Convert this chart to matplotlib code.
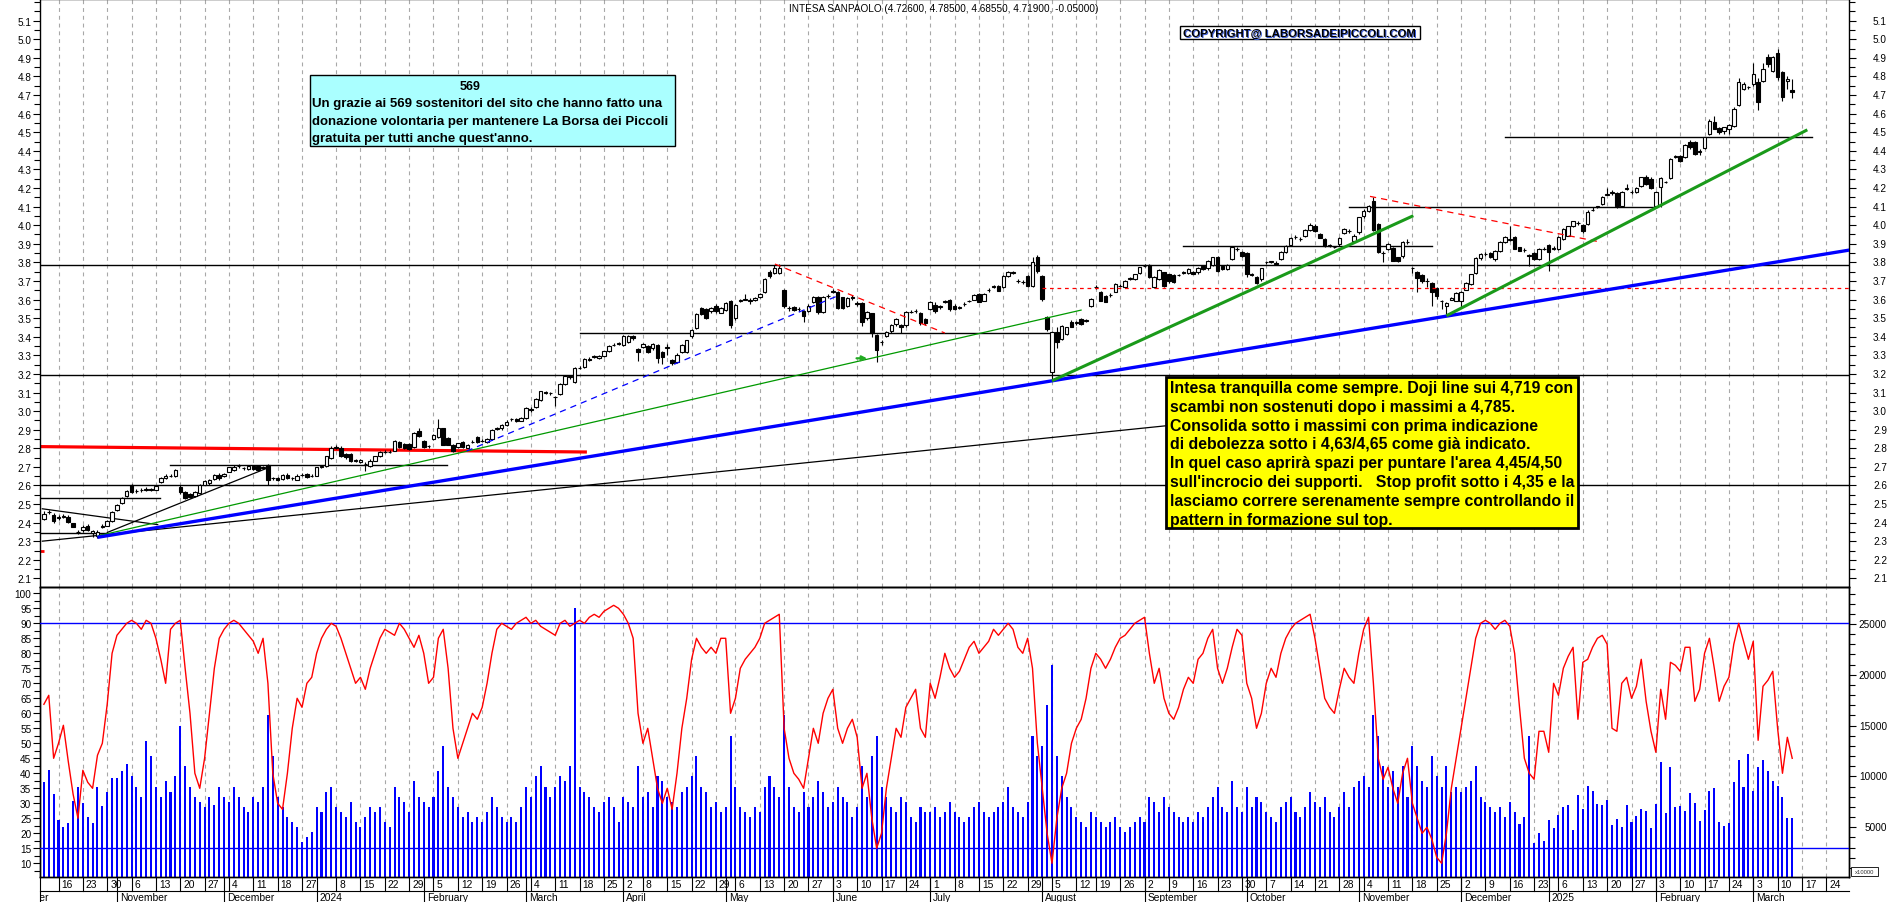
import numpy as np
import pandas as pd
import matplotlib
matplotlib.use("Agg")
import matplotlib.pyplot as plt
from matplotlib.patches import Rectangle
import matplotlib.transforms as mtransforms
from matplotlib.ticker import FixedLocator, NullFormatter

plt.rcParams['font.family'] = ['Liberation Sans', 'DejaVu Sans']

# ---------------------------------------------------------------- data
TITLE = "INTESA SANPAOLO (4.72600, 4.78500, 4.68550, 4.71900, -0.05000)"
CAL_START = "2023-10-02"
FIRST_DAY = "2023-10-11"
LAST_AXIS_DAY = "2025-03-31"
HOLIDAYS = ["2023-12-25", "2023-12-26", "2024-01-01", "2024-03-29", "2024-04-01",
            "2024-05-01", "2024-08-15", "2024-12-24", "2024-12-25", "2024-12-26",
            "2024-12-31", "2025-01-01"]

opens = [
 2.42,2.455,2.441,2.425,2.432,2.433,2.398,2.352,2.358,2.384,2.345,2.33,2.375,2.384,2.411,
 2.47,2.506,2.545,2.603,2.57,2.574,2.578,2.58,2.578,2.621,2.64,2.652,2.65,2.59,2.563,2.555,2.545,2.558,2.605,2.612,2.635,2.658,
 2.65,2.675,2.685,2.705,2.695,2.689,2.703,2.703,2.695,2.712,2.638,2.64,2.635,2.658,2.64,2.632,2.656,2.662,2.65,
 2.653,2.70,2.703,2.75,2.80,2.80,2.77,2.77,2.734,2.725,2.718,2.707,2.734,2.76,2.78,2.78,2.787,2.836,2.823,2.823,2.805,2.895,
 2.84,2.812,2.85,2.86,2.907,2.856,2.82,2.805,2.836,2.802,2.834,2.86,2.84,2.832,2.85,2.905,2.91,2.925,2.955,2.96,2.948,
 2.961,3.01,3.02,3.06,3.104,3.10,3.075,3.092,3.146,3.19,3.155,3.23,3.235,3.28,3.29,3.284,3.294,3.325,3.355,3.36,
 3.355,3.37,3.406,3.335,3.343,3.348,3.337,3.355,3.32,3.34,3.275,3.266,3.32,3.32,3.402,3.445,3.555,3.549,3.537,3.563,3.53,
 3.545,3.594,3.499,3.59,3.60,3.59,3.596,3.612,3.64,3.75,3.741,3.745,3.65,3.555,3.561,3.55,3.54,3.54,3.585,3.612,3.531,3.62,
 3.64,3.64,3.612,3.567,3.615,3.581,3.58,3.499,3.526,3.409,3.37,3.406,3.433,3.468,3.465,3.463,3.531,3.54,3.526,3.495,
 3.549,3.572,3.56,3.588,3.599,3.567,3.555,3.574,3.592,3.60,3.63,3.594,3.649,3.668,3.675,3.666,3.728,3.745,3.70,3.695,3.725,3.675,3.827,
 3.728,3.504,3.208,3.424,3.388,3.415,3.48,3.475,3.495,3.482,3.567,3.665,3.639,3.621,3.623,3.643,3.673,3.666,3.712,3.711,3.743,
 3.78,3.786,3.666,3.71,3.746,3.735,3.732,3.73,3.745,3.743,3.746,3.746,3.779,3.768,3.786,3.827,3.782,3.764,3.818,3.87,3.854,
 3.85,3.735,3.72,3.711,3.80,3.803,3.795,3.818,3.854,3.893,3.935,3.926,3.94,3.974,3.997,3.953,3.926,3.89,3.88,3.897,3.958,3.97,3.917,
 3.962,4.047,4.078,4.132,4.006,3.85,3.87,3.875,3.827,3.832,3.908,3.768,3.75,3.732,3.70,3.689,3.66,3.594,3.563,3.60,3.594,
 3.594,3.653,3.684,3.743,3.822,3.843,3.849,3.818,3.863,3.911,3.922,3.935,3.88,3.864,3.838,3.849,3.818,3.872,
 3.893,3.874,3.872,3.925,3.944,3.997,4.01,4.0,4.006,4.08,4.098,4.114,4.165,4.175,4.173,4.105,4.195,4.18,4.18,4.212,4.257,4.248,
 4.105,4.203,4.232,4.252,4.365,4.37,4.365,4.449,4.449,4.392,4.413,4.49,4.557,4.521,4.508,4.517,4.535,4.647,4.732,4.741,
 4.759,4.772,4.777,4.903,4.831,4.926,4.826,4.773,4.726]

highs = [
 2.46,2.47,2.45,2.44,2.445,2.44,2.40,2.36,2.385,2.39,2.36,2.36,2.39,2.415,2.465,
 2.50,2.54,2.575,2.61,2.58,2.585,2.59,2.585,2.605,2.645,2.66,2.66,2.69,2.60,2.57,2.56,2.57,2.61,2.63,2.635,2.66,2.665,
 2.665,2.70,2.71,2.715,2.70,2.71,2.71,2.71,2.705,2.715,2.645,2.645,2.66,2.665,2.645,2.66,2.665,2.665,2.66,
 2.70,2.71,2.76,2.81,2.815,2.81,2.775,2.775,2.745,2.745,2.725,2.74,2.76,2.785,2.79,2.79,2.845,2.84,2.83,2.83,2.89,2.91,
 2.845,2.82,2.875,2.96,2.91,2.86,2.825,2.83,2.84,2.825,2.845,2.865,2.85,2.855,2.905,2.915,2.93,2.95,2.965,2.965,2.97,
 3.02,3.02,3.07,3.11,3.11,3.105,3.08,3.15,3.195,3.195,3.235,3.24,3.285,3.29,3.30,3.30,3.325,3.355,3.365,3.37,
 3.41,3.41,3.41,3.34,3.365,3.355,3.365,3.36,3.325,3.36,3.28,3.31,3.36,3.385,3.44,3.525,3.56,3.555,3.56,3.575,3.56,
 3.585,3.60,3.575,3.605,3.63,3.61,3.615,3.635,3.715,3.76,3.785,3.79,3.655,3.565,3.565,3.56,3.545,3.575,3.62,3.62,3.62,3.63,
 3.655,3.645,3.615,3.615,3.625,3.59,3.585,3.54,3.53,3.415,3.38,3.43,3.47,3.50,3.47,3.54,3.545,3.55,3.535,3.50,
 3.59,3.585,3.57,3.60,3.605,3.575,3.565,3.585,3.60,3.63,3.635,3.635,3.66,3.68,3.68,3.73,3.755,3.755,3.71,3.705,3.73,3.83,3.84,
 3.73,3.51,3.43,3.45,3.465,3.455,3.49,3.485,3.50,3.495,3.61,3.68,3.645,3.625,3.635,3.69,3.685,3.705,3.72,3.74,3.775,
 3.79,3.79,3.725,3.765,3.75,3.74,3.735,3.74,3.755,3.77,3.755,3.775,3.785,3.815,3.83,3.835,3.785,3.79,3.885,3.885,3.86,
 3.855,3.745,3.725,3.77,3.81,3.81,3.805,3.86,3.895,3.935,3.945,3.935,3.98,4.01,4.005,3.96,3.93,3.90,3.89,3.935,3.985,3.98,3.95,
 4.045,4.085,4.11,4.15,4.01,3.86,3.905,3.88,3.83,3.915,3.925,3.775,3.755,3.74,3.715,3.695,3.665,3.60,3.585,3.615,3.64,
 3.645,3.695,3.74,3.83,3.85,3.855,3.855,3.865,3.915,3.94,3.997,3.94,3.885,3.875,3.845,3.855,3.875,3.88,
 3.90,3.89,3.94,3.985,3.995,4.025,4.02,4.005,4.08,4.10,4.105,4.155,4.20,4.19,4.18,4.185,4.22,4.19,4.205,4.26,4.27,4.26,
 4.185,4.26,4.24,4.36,4.38,4.375,4.435,4.46,4.455,4.41,4.475,4.57,4.59,4.53,4.53,4.545,4.635,4.79,4.77,4.75,
 4.87,4.79,4.87,4.92,4.91,4.95,4.83,4.80,4.785]

lows = [
 2.415,2.445,2.40,2.415,2.425,2.40,2.375,2.34,2.35,2.355,2.325,2.315,2.37,2.38,2.405,
 2.465,2.50,2.54,2.56,2.56,2.565,2.57,2.57,2.575,2.615,2.635,2.645,2.645,2.555,2.525,2.53,2.54,2.555,2.60,2.605,2.63,2.63,
 2.645,2.67,2.68,2.695,2.685,2.685,2.685,2.68,2.69,2.60,2.63,2.625,2.63,2.635,2.63,2.63,2.65,2.64,2.645,
 2.65,2.695,2.70,2.745,2.795,2.755,2.745,2.725,2.725,2.72,2.68,2.70,2.73,2.755,2.775,2.775,2.785,2.80,2.795,2.79,2.80,2.86,
 2.80,2.80,2.845,2.855,2.815,2.815,2.78,2.80,2.80,2.80,2.83,2.83,2.835,2.83,2.845,2.90,2.90,2.92,2.945,2.94,2.945,
 2.955,2.995,3.015,3.055,3.09,3.085,3.03,3.085,3.14,3.175,3.15,3.225,3.23,3.27,3.285,3.28,3.29,3.32,3.35,3.355,
 3.35,3.365,3.385,3.27,3.34,3.31,3.33,3.26,3.255,3.30,3.25,3.26,3.315,3.315,3.395,3.44,3.515,3.495,3.53,3.53,3.525,
 3.54,3.445,3.49,3.585,3.595,3.575,3.59,3.61,3.635,3.715,3.735,3.74,3.555,3.54,3.54,3.54,3.48,3.535,3.58,3.52,3.525,3.61,
 3.635,3.55,3.55,3.56,3.60,3.565,3.46,3.49,3.40,3.266,3.355,3.40,3.42,3.46,3.42,3.455,3.525,3.53,3.465,3.465,
 3.545,3.53,3.55,3.58,3.54,3.545,3.55,3.565,3.585,3.595,3.585,3.59,3.64,3.66,3.645,3.66,3.72,3.735,3.69,3.685,3.67,3.67,3.745,
 3.59,3.43,3.17,3.34,3.38,3.41,3.45,3.465,3.465,3.48,3.56,3.655,3.59,3.585,3.615,3.64,3.665,3.66,3.705,3.705,3.74,
 3.775,3.715,3.66,3.705,3.67,3.69,3.69,3.725,3.74,3.74,3.735,3.74,3.76,3.76,3.78,3.75,3.76,3.76,3.815,3.86,3.83,
 3.72,3.725,3.685,3.70,3.79,3.795,3.785,3.815,3.85,3.89,3.925,3.915,3.935,3.97,3.965,3.93,3.885,3.88,3.875,3.89,3.955,3.96,3.91,
 3.955,4.04,4.07,3.97,3.85,3.80,3.865,3.805,3.80,3.825,3.90,3.745,3.64,3.69,3.67,3.567,3.605,3.55,3.51,3.595,3.59,
 3.56,3.65,3.68,3.74,3.815,3.835,3.825,3.81,3.855,3.905,3.915,3.87,3.86,3.855,3.78,3.815,3.815,3.865,
 3.755,3.865,3.865,3.92,3.94,3.99,4.0,3.96,4.0,4.075,4.09,4.11,4.16,4.16,4.095,4.10,4.19,4.17,4.175,4.205,4.215,4.195,
 4.095,4.10,4.225,4.25,4.36,4.34,4.36,4.41,4.375,4.38,4.41,4.485,4.515,4.49,4.49,4.49,4.53,4.64,4.725,4.735,
 4.75,4.62,4.77,4.85,4.825,4.78,4.67,4.73,4.6855]

closes = [
 2.447,2.458,2.411,2.43,2.436,2.405,2.379,2.350,2.378,2.362,2.357,2.35,2.384,2.411,2.459,
 2.497,2.533,2.569,2.567,2.572,2.576,2.581,2.576,2.599,2.64,2.653,2.653,2.685,2.563,2.533,2.537,2.563,2.603,2.626,2.63,2.656,2.638,
 2.66,2.698,2.70,2.707,2.693,2.703,2.689,2.685,2.698,2.63,2.64,2.632,2.656,2.638,2.639,2.653,2.658,2.644,2.653,
 2.698,2.703,2.757,2.80,2.805,2.76,2.752,2.73,2.734,2.737,2.716,2.734,2.757,2.778,2.782,2.782,2.838,2.805,2.80,2.796,2.882,2.865,
 2.805,2.814,2.87,2.907,2.82,2.82,2.787,2.827,2.805,2.82,2.836,2.832,2.84,2.85,2.90,2.908,2.925,2.94,2.96,2.948,2.962,
 3.015,3.005,3.065,3.106,3.10,3.097,3.074,3.146,3.191,3.182,3.23,3.232,3.28,3.277,3.294,3.298,3.321,3.352,3.357,3.366,
 3.402,3.406,3.392,3.32,3.361,3.316,3.361,3.284,3.29,3.345,3.257,3.302,3.355,3.382,3.438,3.522,3.522,3.499,3.554,3.537,3.554,
 3.581,3.463,3.57,3.599,3.603,3.595,3.608,3.63,3.71,3.728,3.77,3.772,3.563,3.555,3.544,3.549,3.513,3.567,3.612,3.535,3.615,3.621,
 3.645,3.554,3.553,3.608,3.608,3.576,3.481,3.535,3.419,3.33,3.37,3.424,3.465,3.495,3.454,3.535,3.531,3.54,3.472,3.474,
 3.585,3.537,3.563,3.59,3.549,3.549,3.558,3.576,3.594,3.624,3.589,3.63,3.651,3.671,3.648,3.725,3.75,3.746,3.70,3.696,3.675,3.80,3.755,
 3.603,3.441,3.424,3.37,3.459,3.45,3.454,3.477,3.47,3.49,3.603,3.668,3.594,3.589,3.625,3.684,3.675,3.702,3.714,3.737,3.773,
 3.782,3.72,3.72,3.76,3.675,3.698,3.696,3.732,3.746,3.764,3.737,3.771,3.764,3.809,3.827,3.755,3.764,3.786,3.881,3.872,3.836,
 3.737,3.734,3.689,3.768,3.80,3.805,3.793,3.854,3.89,3.929,3.935,3.926,3.976,4.003,3.97,3.931,3.89,3.89,3.881,3.929,3.979,3.97,3.944,
 4.042,4.078,4.105,3.976,3.857,3.85,3.899,3.809,3.809,3.911,3.908,3.768,3.714,3.70,3.70,3.639,3.617,3.594,3.581,3.606,3.635,
 3.642,3.689,3.737,3.822,3.845,3.845,3.827,3.86,3.911,3.935,3.925,3.872,3.863,3.866,3.836,3.818,3.872,3.872,
 3.857,3.876,3.935,3.979,3.993,4.02,4.012,3.967,4.073,4.083,4.101,4.15,4.168,4.177,4.101,4.18,4.198,4.177,4.198,4.257,4.221,4.198,
 4.18,4.252,4.234,4.356,4.37,4.347,4.431,4.418,4.383,4.40,4.472,4.562,4.517,4.499,4.526,4.539,4.625,4.772,4.759,4.741,
 4.813,4.665,4.84,4.867,4.903,4.795,4.691,4.787,4.719]

volume = [
 9420,10660,8270,5710,4990,5410,7610,8990,7350,5970,5380,8930,7120,8490,9840,
 9840,10500,11200,10000,9000,8000,13500,12000,9000,8000,9500,8500,10000,15000,11000,9000,8000,7500,7000,8000,7200,9000,
 8000,7500,9000,8000,7000,6500,8000,7500,9000,16000,12000,8000,7000,6000,5500,5000,3500,4000,4500,
 7000,6500,8500,9000,7000,6500,6000,7500,5500,5000,6000,7000,6500,7000,5500,5000,9000,8000,7500,6500,9500,8000,
 7500,7000,8000,10500,13000,9000,8000,7000,6000,6500,5500,6000,5500,6500,8000,7000,6000,5500,6000,5500,7000,
 9000,8000,10000,11000,9000,8000,9000,10000,9500,11000,26600,9000,8500,8000,7000,6500,7500,8000,7000,5500,
 8000,7500,7000,11000,8000,8500,7000,10000,9500,8000,7500,7000,8500,9000,10000,12000,9000,8500,7000,7500,6500,
 7000,14000,9000,7000,6500,6000,7000,6500,9000,10000,9000,8000,16000,9000,7000,6500,8500,7000,8000,9500,8500,7000,
 7500,9000,8000,7500,6000,7000,11000,8000,12000,14000,9000,8000,7000,6500,8000,7500,6000,5500,7000,6500,
 6500,7000,6000,6500,7500,6500,6000,5500,6000,7000,7500,6500,6000,6500,7000,7500,9000,7000,6500,6000,7500,14000,12000,
 13000,17000,21000,12000,10000,8000,7000,6000,5500,5000,6500,6000,5500,5000,5500,6000,5000,4500,5000,5500,6000,
 5500,8000,7500,6500,8000,7000,6500,6000,5500,6000,5500,6500,6000,7000,8000,9000,7000,6500,9500,7000,6500,
 9000,7000,8000,7500,6500,6000,5500,7000,7500,8000,6500,6000,7000,8500,7500,7000,8000,6500,6000,7000,8500,7000,9000,
 9500,10000,9000,16000,14000,11000,9000,10500,9000,11000,8000,13000,11000,9500,9000,12000,10000,9000,11000,8500,9000,
 8500,9000,9500,11000,8000,7500,7000,6500,7000,6000,7500,6500,5315,6035,14010,3415,4400,3675,
 5710,4920,6200,6955,7185,4725,8200,6790,9020,8530,7280,7185,7680,5250,5810,4990,7185,5480,6135,6790,6625,4890,
 7280,11450,6365,10890,7020,7120,6625,8365,7350,5580,6725,8595,8860,5480,5150,5380,9420,11650,8990,12200,
 8530,10890,11650,10500,9580,9085,7940,5875,5875]

oscillator = [
 63,66,45,50,56,44,33,25,41,37,35,46,50,63,80,
 86,88,90,91,90,88,91,90,85,78,70,88,90,91,75,60,40,35,45,60,75,85,
 88,90,91,90,88,86,84,80,85,70,40,30,28,40,55,65,62,70,72,
 80,85,88,90,89,85,80,75,70,72,68,75,80,85,88,87,86,90,88,85,82,86,
 80,70,72,85,88,75,55,45,50,55,60,58,62,70,80,88,90,89,88,90,91,
 92,90,91,89,88,87,86,90,91,89,90,91,90,92,93,92,94,95,96,95,
 93,90,85,60,50,55,45,35,30,35,28,40,55,65,78,85,82,80,82,80,85,
 85,60,65,75,78,80,82,85,90,91,92,93,55,45,40,38,35,45,55,50,60,65,
 68,55,50,55,58,52,35,40,25,15,20,35,45,55,52,62,65,68,55,52,
 70,65,72,80,75,72,74,78,82,84,80,82,84,88,86,88,90,88,82,80,85,75,50,
 35,20,10,25,35,40,50,55,58,65,75,80,78,75,78,82,85,86,88,90,91,
 92,80,70,75,65,60,58,62,68,72,70,78,80,85,88,75,70,75,82,88,86,
 70,65,55,60,70,75,72,80,85,88,90,91,92,93,85,75,65,62,60,68,75,72,70,
 80,88,92,70,45,38,42,35,30,40,45,30,25,20,22,18,12,10,20,35,45,
 55,65,75,85,90,91,90,88,90,91,89,80,62,45,40,38,54,54,
 47,70,66,75,79,82,58,77,78,82,85,86,83,55,54,70,72,65,69,78,64,54,
 47,68,58,77,76,74,82,82,64,68,80,85,75,64,69,72,83,90,84,78,
 84,51,69,71,74,55,40,52,45]

# horizontal reference levels spanning the whole chart
FULL_LEVELS = [3.785, 3.196, 2.603]
# short horizontal levels: (start index, end index, price)
SHORT_LEVELS = [(300, 363, 4.472), (268, 331, 4.100), (234, 285, 3.886),
                (110, 207, 3.420), (25.9, 82.8, 2.712), (-0.8, 23.8, 2.533),
                (-0.8, 12.9, 2.346)]
# trend lines: ((i0, p0), (i1, p1))
BLUE_TREND = ((11.0, 2.321), (370.7, 3.866))
GREEN_TREND_A = ((207.0, 3.163), (281.2, 4.051))
GREEN_TREND_B = ((288.0, 3.513), (362.1, 4.513))
GREEN_THIN = ((11.0, 2.328), (213.1, 3.544))
BLUE_DASHED = ((86.8, 2.785), (163.1, 3.621))
RED_DASHED_A = ((150.1, 3.791), (185.0, 3.420))
RED_DASHED_B = ((272.3, 4.155), (319.9, 3.908))
RED_DASHED_LEVEL = ((204.9, 3.660), (370.7, 3.660))
RED_THICK = ((-0.8, 2.809), (111.5, 2.780))
RED_STUB = ((-0.8, 2.248), (0.0, 2.248))
BLACK_LONG = ((-0.45, 2.300), (230.4, 2.921))
BLACK_DESC = ((-0.45, 2.475), (23.5, 2.389))
BLACK_RISE = ((12.9, 2.346), (46.1, 2.696))
GREEN_ARROW = ((166.3, 3.284), (169.6, 3.284))

MONTHS = ["January", "February", "March", "April", "May", "June", "July",
          "August", "September", "October", "November", "December"]
SKIP_WEEKS = ["2024-01-02", "2024-12-30"]

CYAN_LINES = ["Un grazie ai 569 sostenitori del sito che hanno fatto una",
              "donazione volontaria per mantenere La Borsa dei Piccoli",
              "gratuita per tutti anche quest'anno."]
YELLOW_LINES = ["Intesa tranquilla come sempre. Doji line sui 4,719 con",
                "scambi non sostenuti dopo i massimi a 4,785.",
                "Consolida sotto i massimi con prima indicazione",
                "di debolezza sotto i 4,63/4,65 come già indicato.",
                "In quel caso aprirà spazi per puntare l'area 4,45/4,50",
                "sull'incrocio dei supporti.   Stop profit sotto i 4,35 e la",
                "lasciamo correre serenamente sempre controllando il",
                "pattern in formazione sul top."]

N = len(closes)
assert len(opens) == N and len(highs) == N and len(lows) == N
assert len(volume) == N and len(oscillator) == N

days = pd.bdate_range(CAL_START, LAST_AXIS_DAY, freq="C", holidays=HOLIDAYS)
offset = int(np.where(days == pd.Timestamp(FIRST_DAY))[0][0])
xpos = np.arange(len(days)) - offset       # trading-day index, 0 = first candle
di = np.arange(N)

# ---------------------------------------------------------------- layout
W, H = 1890, 903
fig = plt.figure(figsize=(W / 100, H / 100), dpi=100)
fig.patch.set_facecolor("white")

def rect(x0, y0, x1, y1):
    return [x0 / W, 1 - y1 / H, (x1 - x0) / W, (y1 - y0) / H]

def fy(py):
    return 1 - py / H

PL, PR = 40, 1849
UT, UB, LB = 0, 588, 878
XLIM = (-0.80, 370.66)

ax = fig.add_axes(rect(PL, UT, PR, UB))
ax2 = fig.add_axes(rect(PL, UB, PR, LB), sharex=ax)
ax3 = ax2.twinx()
ax2.set_zorder(ax3.get_zorder() + 1)
ax2.patch.set_visible(False)

ax.set_xlim(*XLIM)
ax.set_ylim(2.0538, 5.2167)
ax2.set_ylim(5.43, 102.1)
ax3.set_ylim(98, 28642)

for a in (ax, ax2, ax3):
    for s in a.spines.values():
        s.set_linewidth(1.0)
        s.set_color("black")
    a.tick_params(axis="x", bottom=False, top=False, labelbottom=False)

TICK_FS = 7.2
ax.yaxis.set_major_locator(FixedLocator(np.round(np.arange(2.1, 5.15, 0.1), 2)))
ax.yaxis.set_minor_locator(FixedLocator(np.round(np.arange(2.05, 5.22, 0.05), 3)))
ax.yaxis.set_major_formatter(matplotlib.ticker.FormatStrFormatter("%.1f"))
ax.yaxis.set_minor_formatter(NullFormatter())
ax.tick_params(axis="y", which="both", direction="out", left=True, right=True,
               labelleft=True, labelright=False, labelsize=TICK_FS, pad=1.2, width=0.8)
ax.tick_params(axis="y", which="major", length=5)
ax.tick_params(axis="y", which="minor", length=4)

ax2.yaxis.set_ticks_position("left")
ax2.yaxis.set_major_locator(FixedLocator(np.arange(10, 101, 5)))
ax2.yaxis.set_minor_locator(FixedLocator(np.arange(7.5, 102, 2.5)))
ax2.yaxis.set_minor_formatter(NullFormatter())
ax2.tick_params(axis="y", which="both", direction="out", labelsize=TICK_FS, pad=1.2, width=0.8)
ax2.tick_params(axis="y", which="major", length=5)
ax2.tick_params(axis="y", which="minor", length=4)

ax3.yaxis.set_ticks_position("right")
ax3.yaxis.set_major_locator(FixedLocator(np.arange(5000, 25001, 5000)))
ax3.yaxis.set_minor_locator(FixedLocator(np.arange(1000, 28001, 1000)))
ax3.tick_params(axis="y", which="both", direction="out", labelright=False, width=0.8)
ax3.tick_params(axis="y", which="major", length=5)
ax3.tick_params(axis="y", which="minor", length=4)

tr_up = mtransforms.blended_transform_factory(fig.transFigure, ax.transData)
for v in np.arange(2.1, 5.15, 0.1):
    fig.text(1887 / W, v, f"{v:.1f}", transform=tr_up, ha="right", va="center",
             fontsize=TICK_FS)
tr_vol = mtransforms.blended_transform_factory(fig.transFigure, ax3.transData)
for v in range(5000, 25001, 5000):
    fig.text(1887 / W, v, f"{v}", transform=tr_vol, ha="right", va="center",
             fontsize=TICK_FS)

# ---------------------------------------------------------------- week / month ticks
iso = days.isocalendar()
week_key = iso.year.astype(str) + "-" + iso.week.astype(str)
week_first, seen = [], set()
for k, key in enumerate(week_key):
    if key not in seen:
        seen.add(key)
        week_first.append(k)
skip = set(pd.to_datetime(SKIP_WEEKS))
week_first = [k for k in week_first if days[k] not in skip]
month_first = [k for k in range(len(days)) if k == 0 or days[k].month != days[k - 1].month]

def inside(x):
    return XLIM[0] < x < XLIM[1]

GRID_KW = dict(color="#a8a8a8", lw=0.8, ls=(0, (3.5, 3.5)), zorder=0)
for k in week_first:
    if inside(xpos[k]):
        ax.axvline(xpos[k], **GRID_KW)
        ax3.axvline(xpos[k], **GRID_KW)

trx = mtransforms.blended_transform_factory(ax2.transData, fig.transFigure)
lab_tr = mtransforms.offset_copy(trx, fig=fig, x=3, y=0, units="dots")
clip_bb = mtransforms.Bbox.from_extents(PL, 0, PR, H)

AX_FS = 7.4
for k in week_first:
    x = xpos[k]
    if inside(x):
        fig.add_artist(plt.Line2D([x, x], [fy(LB), fy(892)], transform=trx, color="black", lw=0.8))
        t = fig.text(x, fy(885.5), str(days[k].day), transform=lab_tr, ha="left",
                     va="center", fontsize=AX_FS)
        t.set_clip_box(clip_bb); t.set_clip_on(True)
for k in month_first:
    d = days[k]
    x = xpos[k]
    name = str(d.year) if d.month == 1 else MONTHS[d.month - 1]
    if inside(x):
        fig.add_artist(plt.Line2D([x, x], [fy(LB), fy(H)], transform=trx, color="black", lw=0.8))
    if x < XLIM[1]:
        t = fig.text(x, fy(898.5), name, transform=lab_tr, ha="left", va="center",
                     fontsize=AX_FS)
        t.set_clip_box(clip_bb); t.set_clip_on(True)
fig.add_artist(plt.Line2D([PL / W, PR / W], [fy(892), fy(892)], color="black", lw=0.8))
fig.add_artist(plt.Line2D([PL / W, PL / W], [fy(LB), fy(H)], color="black", lw=0.8))

# ---------------------------------------------------------------- upper panel content
def seg(a, p, **kw):
    (x0, y0), (x1, y1) = p
    a.plot([x0, x1], [y0, y1], solid_capstyle="butt", **kw)

for lv in FULL_LEVELS:
    ax.axhline(lv, color="black", lw=1.0, zorder=2)
for i0, i1, lv in SHORT_LEVELS:
    ax.plot([i0, i1], [lv, lv], color="black", lw=1.0, zorder=2)

seg(ax, BLACK_LONG, color="black", lw=0.9, zorder=2)
seg(ax, BLACK_DESC, color="black", lw=0.9, zorder=2)
seg(ax, BLACK_RISE, color="black", lw=0.9, zorder=2)
seg(ax, RED_THICK, color="#ff0000", lw=2.3, zorder=2)
seg(ax, RED_STUB, color="#ff0000", lw=2.0, zorder=2)

o = np.array(opens); h = np.array(highs); l = np.array(lows); c = np.array(closes)
ax.vlines(di, l, h, color="black", lw=0.8, zorder=3)
up = c >= o
body_bottom = np.minimum(o, c)
body_h = np.maximum(np.abs(c - o), 0.0008)
ax.bar(di[up], body_h[up], bottom=body_bottom[up], width=0.72, color="white",
       edgecolor="black", linewidth=0.8, zorder=4)
ax.bar(di[~up], body_h[~up], bottom=body_bottom[~up], width=0.72, color="black",
       edgecolor="black", linewidth=0.8, zorder=4)

seg(ax, GREEN_THIN, color="#009900", lw=0.9, zorder=5)
seg(ax, BLUE_DASHED, color="#0000ff", lw=0.9, ls=(0, (5, 4)), zorder=5)
seg(ax, RED_DASHED_A, color="#ff0000", lw=0.9, ls=(0, (5, 4)), zorder=5)
seg(ax, RED_DASHED_B, color="#ff0000", lw=0.9, ls=(0, (5, 4)), zorder=5)
seg(ax, RED_DASHED_LEVEL, color="#ff0000", lw=0.9, ls=(0, (3, 3)), zorder=5)
seg(ax, BLUE_TREND, color="#0000ff", lw=2.4, zorder=6)
seg(ax, GREEN_TREND_A, color="#1a9a1a", lw=2.2, zorder=6)
seg(ax, GREEN_TREND_B, color="#1a9a1a", lw=2.2, zorder=6)
(a0, a1) = GREEN_ARROW
ax.annotate("", xy=a1, xytext=a0,
            arrowprops=dict(arrowstyle="-|>", color="#22aa22", lw=1.6, mutation_scale=7),
            zorder=7)

# ---------------------------------------------------------------- lower panel content
ax3.bar(di, volume, width=0.42, color="#0000ff", linewidth=0, zorder=2)
ax2.axhline(90, color="#0000ff", lw=1.0, zorder=3)
ax2.axhline(15, color="#0000ff", lw=1.0, zorder=3)
ax2.plot(di, oscillator, color="#ff0000", lw=1.0, zorder=4)

# ---------------------------------------------------------------- annotations
renderer = fig.canvas.get_renderer()

def fit(t, target):
    bb = t.get_window_extent(renderer=renderer)
    t.set_fontsize(t.get_fontsize() * target / bb.width)
    return t.get_fontsize()

def box(x0, y0, x1, y1, face, lw):
    r = Rectangle((x0 / W, fy(y1)), (x1 - x0) / W, (y1 - y0) / H, transform=fig.transFigure,
                  facecolor=face, edgecolor="black", linewidth=lw, zorder=10)
    fig.add_artist(r)

tt = fig.text(944 / W, fy(9), TITLE, ha="center", va="center", fontsize=7, zorder=11)
fit(tt, 306)

box(1180, 27, 1420, 40, "white", 1.0)
COPY = "COPYRIGHT@ LABORSADEIPICCOLI.COM"
cs = fig.text(1184 / W, fy(34.6), COPY, ha="left", va="center", fontsize=8,
              fontweight="bold", color="#3b5bd6", zorder=11)
ct = fig.text(1183 / W, fy(33.8), COPY, ha="left", va="center",
              fontsize=8, fontweight="bold", zorder=12)
fs = fit(ct, 233)
cs.set_fontsize(fs)

box(310, 76, 675, 147, "#aaffff", 1.0)
fig.text(470 / W, fy(87), "569", ha="center", va="center", fontsize=9, fontweight="bold", zorder=11)
cts = [fig.text(312 / W, fy(y), s, ha="left", va="center", fontsize=9, fontweight="bold", zorder=11)
       for s, y in zip(CYAN_LINES, [104, 122, 139])]
fs = fit(cts[0], 351)
for t in cts[1:]:
    t.set_fontsize(fs)

box(1166, 378, 1578, 529, "#ffff00", 2.0)
ys = [388.5 + k * 18.8 for k in range(len(YELLOW_LINES))]
yts = [fig.text(1170 / W, fy(y), s, ha="left", va="center", fontsize=12, fontweight="bold", zorder=11)
       for s, y in zip(YELLOW_LINES, ys)]
fs = fit(yts[0], 401)
for t in yts[1:]:
    t.set_fontsize(fs)

box(1851, 868, 1878, 877, "white", 0.6)
fig.text(1864.5 / W, fy(872.5), "x10000", ha="center", va="center", fontsize=4.2, color="#333333",
         zorder=11)

fig.savefig("out.png", dpi=100)
